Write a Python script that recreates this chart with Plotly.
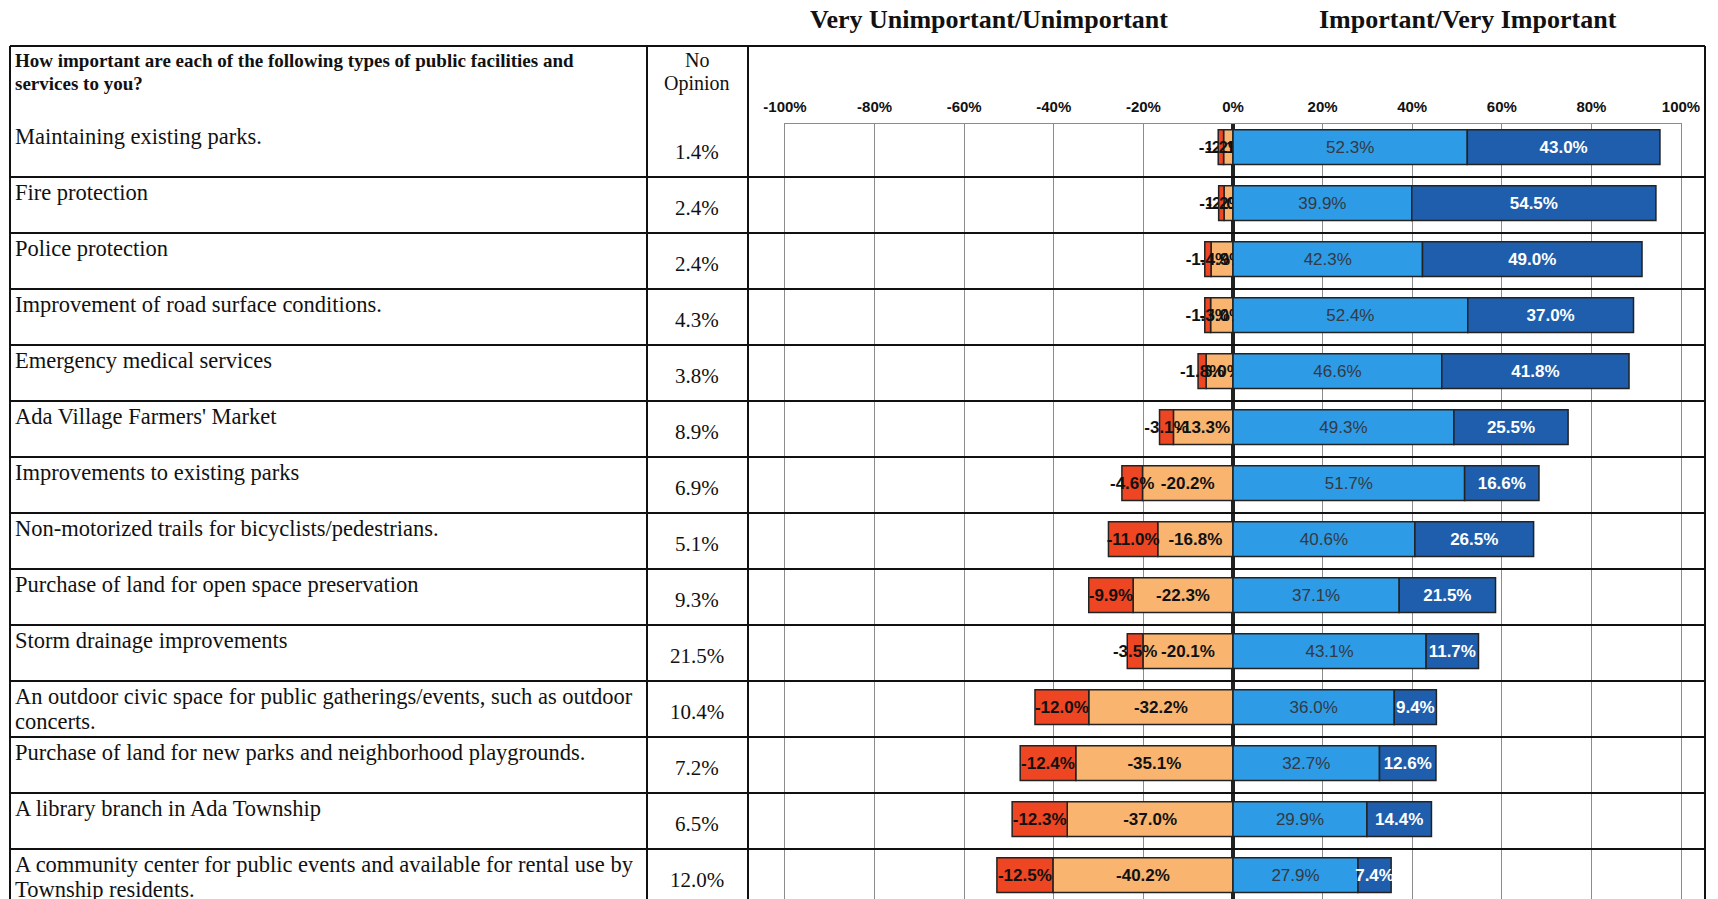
import plotly.graph_objects as go

W, H = 1718, 899

items = [
    "Maintaining existing parks.",
    "Fire protection",
    "Police protection",
    "Improvement of road surface conditions.",
    "Emergency medical services",
    "Ada Village Farmers' Market",
    "Improvements to existing parks",
    "Non-motorized trails for bicyclists/pedestrians.",
    "Purchase of land for open space preservation",
    "Storm drainage improvements",
    "An outdoor civic space for public gatherings/events, such as outdoor<br>concerts.",
    "Purchase of land for new parks and neighborhood playgrounds.",
    "A library branch in Ada Township",
    "A community center for public events and available for rental use by<br>Township residents.",
]
no_opinion = [1.4, 2.4, 2.4, 4.3, 3.8, 8.9, 6.9, 5.1, 9.3, 21.5, 10.4, 7.2, 6.5, 12.0]
very_unimportant = [1.2, 1.2, 1.4, 1.3, 1.8, 3.1, 4.6, 11.0, 9.9, 3.5, 12.0, 12.4, 12.3, 12.5]
unimportant = [2.1, 2.0, 4.9, 5.0, 6.0, 13.3, 20.2, 16.8, 22.3, 20.1, 32.2, 35.1, 37.0, 40.2]
important = [52.3, 39.9, 42.3, 52.4, 46.6, 49.3, 51.7, 40.6, 37.1, 43.1, 36.0, 32.7, 29.9, 27.9]
very_important = [43.0, 54.5, 49.0, 37.0, 41.8, 25.5, 16.6, 26.5, 21.5, 11.7, 9.4, 12.6, 14.4, 7.4]
tick_vals = [-100, -80, -60, -40, -20, 0, 20, 40, 60, 80, 100]
tick_text = ["-100%", "-80%", "-60%", "-40%", "-20%", "0%", "20%", "40%", "60%", "80%", "100%"]

n = len(items)
rows = list(range(n))

def px(x):
    return x / W

def py(y):
    return 1 - y / H

ROW_TOP = 121
ROW_H = 56
y_bottom = -0.5 + (H - ROW_TOP) / ROW_H

fig = go.Figure()

def add_bar(vals, color, txtcolor, neg, weight="bold"):
    xs = [-v if neg else v for v in vals]
    fig.add_trace(go.Bar(
        y=rows, x=xs, orientation="h", width=0.62, offset=-0.345,
        marker=dict(color=color, line=dict(color="#222222", width=1.5)),
        text=[f"{x:.1f}%" for x in xs], textposition="inside",
        insidetextanchor="middle", textangle=0, cliponaxis=False,
        textfont=dict(family="Liberation Sans", size=17, color=txtcolor, weight=weight),
        hoverinfo="skip", showlegend=False,
    ))

add_bar(unimportant, "#F9B56F", "#111111", True)
add_bar(very_unimportant, "#EE4522", "#111111", True)
add_bar(important, "#2D9BE6", "#333a44", False, weight="normal")
add_bar(very_important, "#1E5EAC", "#ffffff", False)

shapes = []
shapes.append(dict(type="line", xref="paper", yref="paper", x0=px(10), x1=px(1705), y0=py(46), y1=py(46),
                   line=dict(color="#111", width=2)))
for i in range(-1, n):
    shapes.append(dict(type="line", xref="paper", yref="y", x0=px(10), x1=px(1705), y0=i + 0.5, y1=i + 0.5,
                       line=dict(color="#111", width=2)))
for xv in [10, 647, 748, 1705]:
    shapes.append(dict(type="line", xref="paper", yref="paper", x0=px(xv), x1=px(xv), y0=0, y1=py(46),
                       line=dict(color="#111", width=2)))

annotations = []
serif = "Liberation Serif"
annotations.append(dict(text="<b>How important are each of the following types of public facilities and</b>",
                        xref="paper", yref="paper", x=px(13), y=py(60), xanchor="left", yanchor="middle",
                        showarrow=False, font=dict(family=serif, size=19, color="#111")))
annotations.append(dict(text="<b>services to you?</b>",
                        xref="paper", yref="paper", x=px(13), y=py(84), xanchor="left", yanchor="middle",
                        showarrow=False, font=dict(family=serif, size=19, color="#111")))
annotations.append(dict(text="No", xref="paper", yref="paper", x=px(697), y=py(60),
                        xanchor="center", yanchor="middle", showarrow=False,
                        font=dict(family=serif, size=20, color="#111")))
annotations.append(dict(text="Opinion", xref="paper", yref="paper", x=px(697), y=py(84),
                        xanchor="center", yanchor="middle", showarrow=False,
                        font=dict(family=serif, size=20, color="#111")))
annotations.append(dict(text="<b>Very Unimportant/Unimportant</b>", xref="paper", yref="paper", x=px(989), y=py(20),
                        xanchor="center", yanchor="middle", showarrow=False,
                        font=dict(family=serif, size=26, color="#111")))
annotations.append(dict(text="<b>Important/Very Important</b>", xref="paper", yref="paper", x=px(1468), y=py(20),
                        xanchor="center", yanchor="middle", showarrow=False,
                        font=dict(family=serif, size=26, color="#111")))
for i, (lab, no) in enumerate(zip(items, no_opinion)):
    for k, line in enumerate(lab.split("<br>")):
        annotations.append(dict(text=line, xref="paper", yref="y", x=px(13), y=i,
                                yshift=ROW_H / 2 - 15 - 25 * k,
                                xanchor="left", yanchor="middle", showarrow=False,
                                font=dict(family=serif, size=22.5, color="#111")))
    annotations.append(dict(text=f"{no:.1f}%", xref="paper", yref="y", x=px(697), y=i, yshift=-3,
                            xanchor="center", yanchor="middle", showarrow=False,
                            font=dict(family=serif, size=21, color="#111")))

fig.update_layout(
    width=W, height=H, margin=dict(l=0, r=0, t=0, b=0, autoexpand=False),
    paper_bgcolor="white", plot_bgcolor="white",
    barmode="relative",
    uniformtext=dict(mode="show", minsize=17),
    shapes=shapes, annotations=annotations,
    xaxis=dict(domain=[px(785), px(1681)], range=[-100, 100], side="top", automargin=False,
               tickvals=tick_vals, ticktext=tick_text, showgrid=True, gridcolor="#8c8c8c", gridwidth=1,
               zeroline=True, zerolinecolor="#222222", zerolinewidth=4,
               showline=True, mirror=True, linecolor="#8c8c8c", linewidth=1,
               ticks="outside", ticklen=5, tickcolor="rgba(0,0,0,0)",
               tickfont=dict(family="Liberation Sans", size=15, color="#111", weight="bold"),
               fixedrange=True),
    yaxis=dict(domain=[0, py(ROW_TOP + 3)], range=[y_bottom, -0.5 + 3 / ROW_H], showticklabels=False,
               automargin=False, showgrid=False, zeroline=False, showline=True, mirror=True,
               linecolor="#8c8c8c", linewidth=1, fixedrange=True),
)

fig.write_html("out.html")
